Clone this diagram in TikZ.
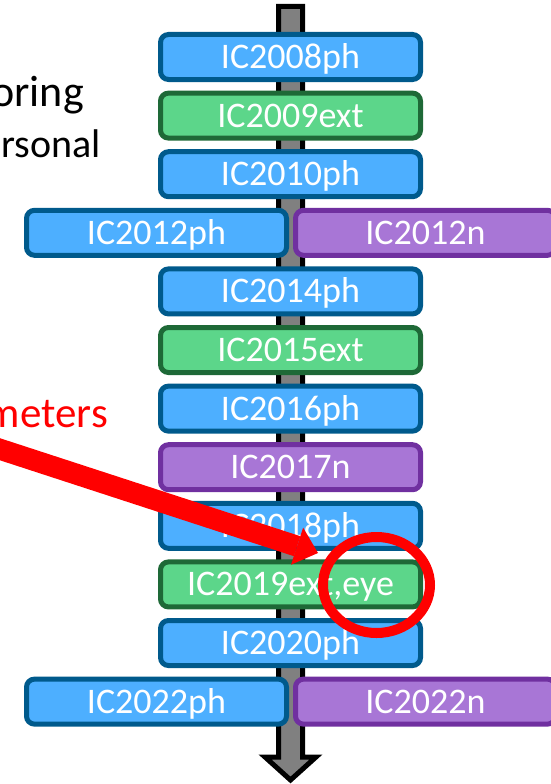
\documentclass[tikz,border=0pt]{standalone}
\usepackage{fontspec}
\setmainfont{Carlito}
\usetikzlibrary{arrows.meta}
\definecolor{boxblue}{RGB}{77,175,255}
\definecolor{boxblueline}{RGB}{0,90,140}
\definecolor{boxgreen}{RGB}{92,214,138}
\definecolor{boxgreenline}{RGB}{30,105,55}
\definecolor{boxpurple}{RGB}{168,118,214}
\definecolor{boxpurpleline}{RGB}{112,48,160}
\definecolor{shaftgray}{RGB}{128,128,128}
\tikzset{
  box/.style={rectangle, rounded corners=8pt, line width=5pt,
    minimum width=260pt, minimum height=45pt, text height=23pt, text depth=0pt,
    inner sep=0pt, text=white, font=\fontsize{36}{36}\selectfont},
  bluebox/.style={box, fill=boxblue, draw=boxblueline},
  greenbox/.style={box, fill=boxgreen, draw=boxgreenline},
  purplebox/.style={box, fill=boxpurple, draw=boxpurpleline},
  sidetext/.style={anchor=base east, inner sep=0pt},
  redarrow/.style={draw=red, line width=21pt,
    -{Triangle[length=22pt, width=39pt, line width=0pt]}},
  redring/.style={draw=red, line width=10pt},
  shaft/.style={draw=black, fill=shaftgray, line width=5pt, miter limit=10}
}
\begin{document}
\begin{tikzpicture}[x=1pt, y=-1pt]
\useasboundingbox (0,0) rectangle (551,784);
\begin{scope}
\clip (0,0) rectangle (551,784);
% timeline arrow
\draw[shaft] (278.5,6.5) -- (302.5,6.5) -- (302.5,757) -- (316,757) -- (290.5,780)
  -- (265,757) -- (278.5,757) -- cycle;
% left texts
\node[sidetext, font=\fontsize{44}{44}\selectfont] (t1) at (84,106) {oring};
\node[sidetext, font=\fontsize{40}{40}\selectfont] (t2) at (101,157) {rsonal};
\node[sidetext, font=\fontsize{43}{43}\selectfont, text=red] (t3) at (108,427) {meters};
% boxes
\node[bluebox]   (b2008)  at (290.5,57)    {IC2008ph};
\node[greenbox]  (b2009)  at (290.5,115.6) {IC2009ext};
\node[bluebox]   (b2010)  at (290.5,174.2) {IC2010ph};
\node[bluebox]   (b2012a) at (156.5,232.8) {IC2012ph};
\node[purplebox] (b2012b) at (425.5,232.8) {IC2012n};
\node[bluebox]   (b2014)  at (290.5,291.4) {IC2014ph};
\node[greenbox]  (b2015)  at (290.5,350)   {IC2015ext};
\node[bluebox]   (b2016)  at (290.5,408.6) {IC2016ph};
\node[purplebox] (b2017)  at (290.5,467.2) {IC2017n};
\node[bluebox]   (b2018)  at (290.5,525.8) {IC2018ph};
\node[greenbox]  (b2019)  at (290.5,584.4) {IC2019ext,eye};
\node[bluebox]   (b2020)  at (290.5,643)   {IC2020ph};
\node[bluebox]   (b2022a) at (156.5,701.6) {IC2022ph};
\node[purplebox] (b2022b) at (425.5,701.6) {IC2022n};
% red annotation
\coordinate (astart) at (-10,446);
\coordinate (atip) at (318,553);
\draw[redarrow] (astart) -- (atip);
\draw[redring] (376.5,585) ellipse [x radius=53.5, y radius=48];
\end{scope}
\end{tikzpicture}
\end{document}
